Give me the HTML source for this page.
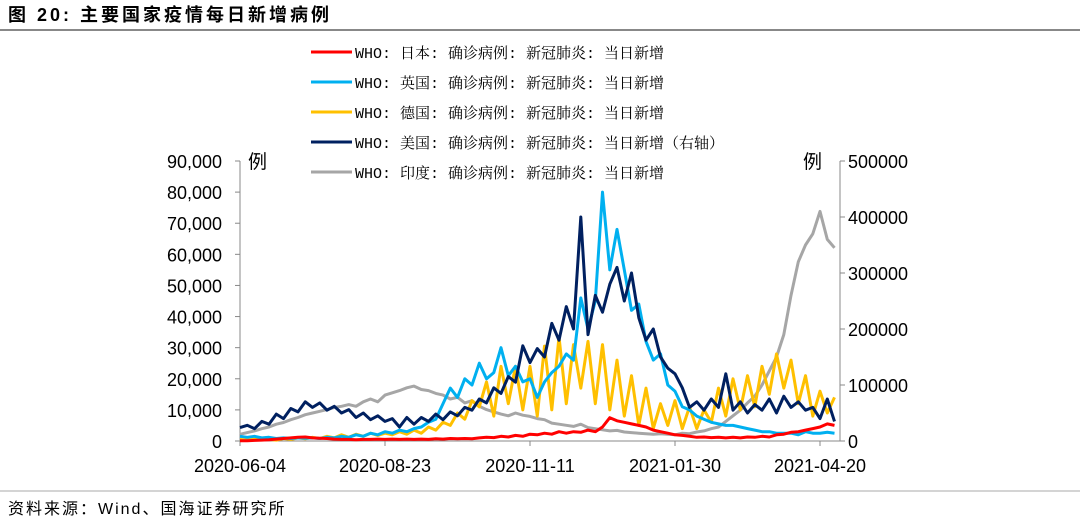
<!DOCTYPE html>
<html><head><meta charset="utf-8">
<style>
body{margin:0;background:#fff;width:1080px;height:521px;overflow:hidden;font-family:"Liberation Sans","Noto Sans CJK SC",sans-serif;}
svg{position:absolute;left:0;top:0}
</style></head>
<body>
<svg id="chart" width="1080" height="521">
<text x="8" y="21" font-size="18" font-weight="bold" letter-spacing="3" fill="#000" font-family="Liberation Sans,Noto Sans CJK SC,sans-serif">图 20:  主要国家疫情每日新增病例</text>
<line x1="0" y1="30" x2="1080" y2="30" stroke="#888" stroke-width="2"/>
<line x1="0" y1="491" x2="1080" y2="491" stroke="#aaa" stroke-width="1"/>
<text x="8" y="514" font-size="16" letter-spacing="2" fill="#000">资料来源：Wind、国海证券研究所</text>
<g id="axes"></g>
<g id="series"></g>
<g id="legend"></g>
</svg>
<script>
const xTickLabels=["2020-06-04","2020-08-23","2020-11-11","2021-01-30","2021-04-20"];
const xTickDays=[0,80,160,240,320];
const leftTicks=[0,10000,20000,30000,40000,50000,60000,70000,80000,90000];
const rightTicks=[0,100000,200000,300000,400000,500000];
const dayStep=4;
const japan=[100,100,200,300,400,600,800,1000,1200,1300,1000,900,800,600,500,500,400,500,500,600,500,600,500,600,500,
600,500,700,600,800,700,800,700,1000,1200,1100,1500,1300,1800,1500,2200,2000,2500,2200,3000,2500,3000,2800,3500,3000,
4500,7500,6500,6000,5500,5000,4500,3500,3000,2500,2000,1800,1500,1200,1300,1100,1200,1000,1200,1000,1300,1200,1500,1300,2000,2200,2800,3000,3500,4000,4500,5500,5000];
const uk=[1500,1200,1500,1000,1200,800,1000,800,1000,900,1000,800,1200,1000,1500,1200,2000,1500,2500,2000,3000,2500,3500,3000,4000,
4500,6000,7000,12000,17000,14000,20000,18000,25000,20000,22000,30000,21000,24000,19000,20000,14000,19000,22000,24000,28000,26000,46000,36000,45000,80000,55000,68000,55000,42000,44000,32000,26000,28000,18000,16000,11000,10000,8000,7000,6000,5500,5000,5000,4500,4000,3500,3000,3000,2500,2500,2500,2000,3000,2500,2500,2800,2500];
const germany=[500,300,600,400,500,300,800,500,1000,700,1200,800,1500,1000,2000,1200,2200,1500,2500,1800,2500,2000,3000,2200,3500,
2500,4500,3500,6000,5000,9000,7000,13000,11000,19000,8000,24000,12000,24000,10000,24000,8000,30500,10000,33500,12000,31000,17000,32000,12000,31000,10000,26000,8000,21000,5000,17000,4000,12000,5000,13000,4000,11000,4000,10000,6000,17000,8000,20000,10000,21000,11000,24000,15000,28000,17000,26000,12000,21000,8000,16000,9000,14000];
const usa=[24000,28000,22000,35000,30000,48000,40000,58000,52000,70000,60000,68000,55000,62000,50000,56000,42000,50000,38000,45000,35000,40000,25000,42000,30000,42000,35000,48000,38000,52000,45000,60000,55000,75000,68000,95000,85000,115000,105000,170000,140000,165000,150000,210000,180000,240000,200000,400000,190000,260000,230000,280000,310000,250000,300000,220000,180000,200000,150000,130000,120000,95000,60000,70000,55000,75000,60000,120000,55000,70000,50000,65000,55000,75000,50000,80000,60000,70000,55000,60000,40000,75000,35000];
const india=[12000,15000,18000,22000,25000,30000,33000,38000,42000,47000,50000,53000,56000,60000,62000,65000,62000,70000,75000,70000,82000,86000,90000,95000,98000,92000,90000,85000,82000,75000,78000,68000,72000,62000,56000,52000,48000,45000,50000,46000,44000,40000,38000,32000,30000,28000,26000,30000,24000,22000,20000,18000,19000,16000,15000,14000,13000,12000,13000,12000,11000,14000,13000,16000,18000,22000,25000,35000,45000,55000,68000,80000,100000,125000,150000,190000,260000,320000,350000,370000,410000,360000,345000];

const X0=240,X1=840,Y0=441,Ytop=161,PXD=1.8125;
const xs=d=>X0+d*PXD;
const yL=v=>Y0-v/90000*(Y0-Ytop);
const yR=v=>Y0-v/500000*(Y0-Ytop);
const NS="http://www.w3.org/2000/svg";
function mk(t,a,p){const e=document.createElementNS(NS,t);for(const k in a)e.setAttribute(k,a[k]);p.appendChild(e);return e;}
const ax=document.getElementById('axes');
let e;
e=mk('line',{x1:X0,y1:Ytop,x2:X0,y2:Y0,stroke:'#888'},ax);


e=mk('line',{x1:X1,y1:Ytop,x2:X1,y2:Y0,stroke:'#888'},ax);


e=mk('line',{x1:X0,y1:Y0,x2:X1,y2:Y0,stroke:'#888'},ax);


leftTicks.forEach(v=>{
  mk('line',{x1:X0-5,y1:yL(v),x2:X0,y2:yL(v),stroke:'#888'},ax);
  e=mk('text',{x:222,y:yL(v)+7,'font-size':18,'text-anchor':'end',fill:'#000'},ax);
  e.textContent=v.toLocaleString('en-US');
  
  
});
rightTicks.forEach(v=>{
  mk('line',{x1:X1,y1:yR(v),x2:X1+5,y2:yR(v),stroke:'#888'},ax);
  e=mk('text',{x:848,y:yR(v)+7,'font-size':18,fill:'#000'},ax);
  e.textContent=String(v);
  
  
});
xTickDays.forEach((d,i)=>{
  mk('line',{x1:xs(d),y1:Y0,x2:xs(d),y2:Y0+5,stroke:'#888'},ax);
  e=mk('text',{x:xs(d),y:472,'font-size':18,'text-anchor':'middle',fill:'#000'},ax);
  e.textContent=xTickLabels[i];
  
  
});
e=mk('text',{x:248,y:168,'font-size':19,fill:'#000'},ax);e.textContent='例';


e=mk('text',{x:803,y:168,'font-size':19,fill:'#000'},ax);e.textContent='例';



const sg=document.getElementById('series');
function line(data,sc,color,name){
  const pts=data.map((v,i)=>xs(i*dayStep).toFixed(1)+','+sc(v).toFixed(1)).join(' ');
  const p=mk('polyline',{points:pts,fill:'none',stroke:color,'stroke-width':3,'stroke-linejoin':'round'},sg);
  
  
}
line(india,yR,'#a6a6a6','series-india');
line(germany,yL,'#ffc000','series-germany');
line(uk,yL,'#00b0f0','series-uk');
line(usa,yR,'#002060','series-usa');
line(japan,yL,'#ff0000','series-japan');

const lg=document.getElementById('legend');
const legNames=['日本','英国','德国','美国','印度'];
const legColors=['#ff0000','#00b0f0','#ffc000','#002060','#a6a6a6'];
legNames.forEach((n,i)=>{
  const y=52+i*30;
  const g=mk('g',{},lg);
  
  
  mk('line',{x1:311,y1:y,x2:352,y2:y,stroke:legColors[i],'stroke-width':3},g);
  const t=mk('text',{x:355,y:y+6,'font-size':15,fill:'#000'},g);
  t.style.fontFamily='"Liberation Mono","Noto Serif CJK SC",serif';
  t.textContent='WHO: '+n+': 确诊病例: 新冠肺炎: 当日新增'+(n==='美国'?'（右轴）':'');
});
</script>
</body></html>
